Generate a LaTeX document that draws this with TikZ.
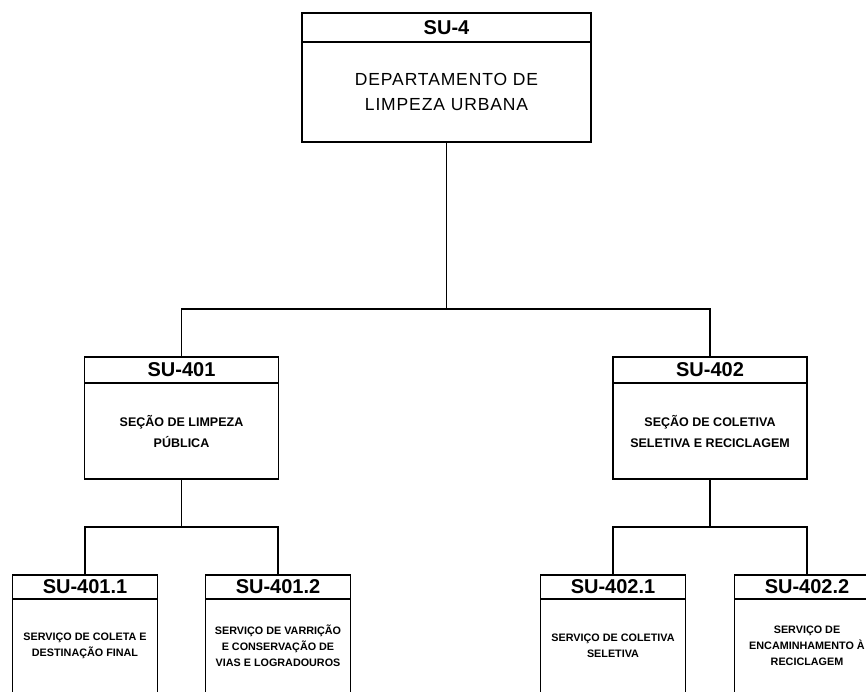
\documentclass[tikz,border=0pt]{standalone}
\usepackage{fontspec}
\setmainfont{Liberation Sans}
\newfontfamily\spacedfont[LetterSpace=5]{Liberation Sans}
\usetikzlibrary{positioning}

\begin{document}
\begin{tikzpicture}[x=1pt, y=-1pt, line width=1.8pt,
  unitbox/.style={draw, inner sep=0pt, outer sep=0pt, align=center},
  toph/.style={unitbox, minimum width=289pt, minimum height=29pt, font=\fontsize{20}{24}\selectfont\bfseries},
  topb/.style={unitbox, minimum width=289pt, minimum height=100pt, font=\spacedfont\fontsize{17.5}{25}\selectfont},
  midh/.style={unitbox, minimum width=194pt, minimum height=26pt, font=\fontsize{20}{24}\selectfont\bfseries},
  midb/.style={unitbox, minimum width=194pt, minimum height=96pt, font=\fontsize{12.5}{21}\selectfont\bfseries},
  subh/.style={unitbox, minimum width=145pt, minimum height=24pt, font=\fontsize{20}{24}\selectfont\bfseries},
  subb/.style={unitbox, minimum width=145pt, minimum height=94pt, font=\fontsize{10.8}{16}\selectfont\bfseries}
]
\useasboundingbox (0,0) rectangle (866,691);

% departamento
\node[toph] (su4h) at (446.5,27.5) {SU-4};
\node[topb, below=0pt of su4h] (su4b) {DEPARTAMENTO DE\\LIMPEZA URBANA};

% secoes
\node[midh] (su401h) at (181.5,370) {SU-401};
\node[midb, below=0pt of su401h] (su401b) {SEÇÃO DE LIMPEZA\\PÚBLICA};
\node[midh] (su402h) at (710,370) {SU-402};
\node[midb, below=0pt of su402h] (su402b) {SEÇÃO DE COLETIVA\\SELETIVA E RECICLAGEM};

% servicos
\node[subh] (su4011h) at (85,587) {SU-401.1};
\node[subb, below=0pt of su4011h] (su4011b) {SERVIÇO DE COLETA E\\DESTINAÇÃO FINAL};
\node[subh] (su4012h) at (278,587) {SU-401.2};
\node[subb, below=0pt of su4012h] (su4012b) {SERVIÇO DE VARRIÇÃO\\E CONSERVAÇÃO DE\\VIAS E LOGRADOUROS};
\node[subh] (su4021h) at (613,587) {SU-402.1};
\node[subb, below=0pt of su4021h] (su4021b) {SERVIÇO DE COLETIVA\\SELETIVA};
\node[subh] (su4022h) at (807,587) {SU-402.2};
\node[subb, below=0pt of su4022h] (su4022b) {SERVIÇO DE\\ENCAMINHAMENTO À\\RECICLAGEM};

% ligacoes
\coordinate (bus1) at (446.5,309);
\coordinate (bus2) at (181.5,527);
\coordinate (bus3) at (710,527);
\draw (su4b.south) -- (bus1);
\draw (su401h.north) |- (bus1) -| (su402h.north);
\draw (su401b.south) -- (bus2);
\draw (su4011h.north) |- (bus2) -| (su4012h.north);
\draw (su402b.south) -- (bus3);
\draw (su4021h.north) |- (bus3) -| (su4022h.north);
\end{tikzpicture}
\end{document}
